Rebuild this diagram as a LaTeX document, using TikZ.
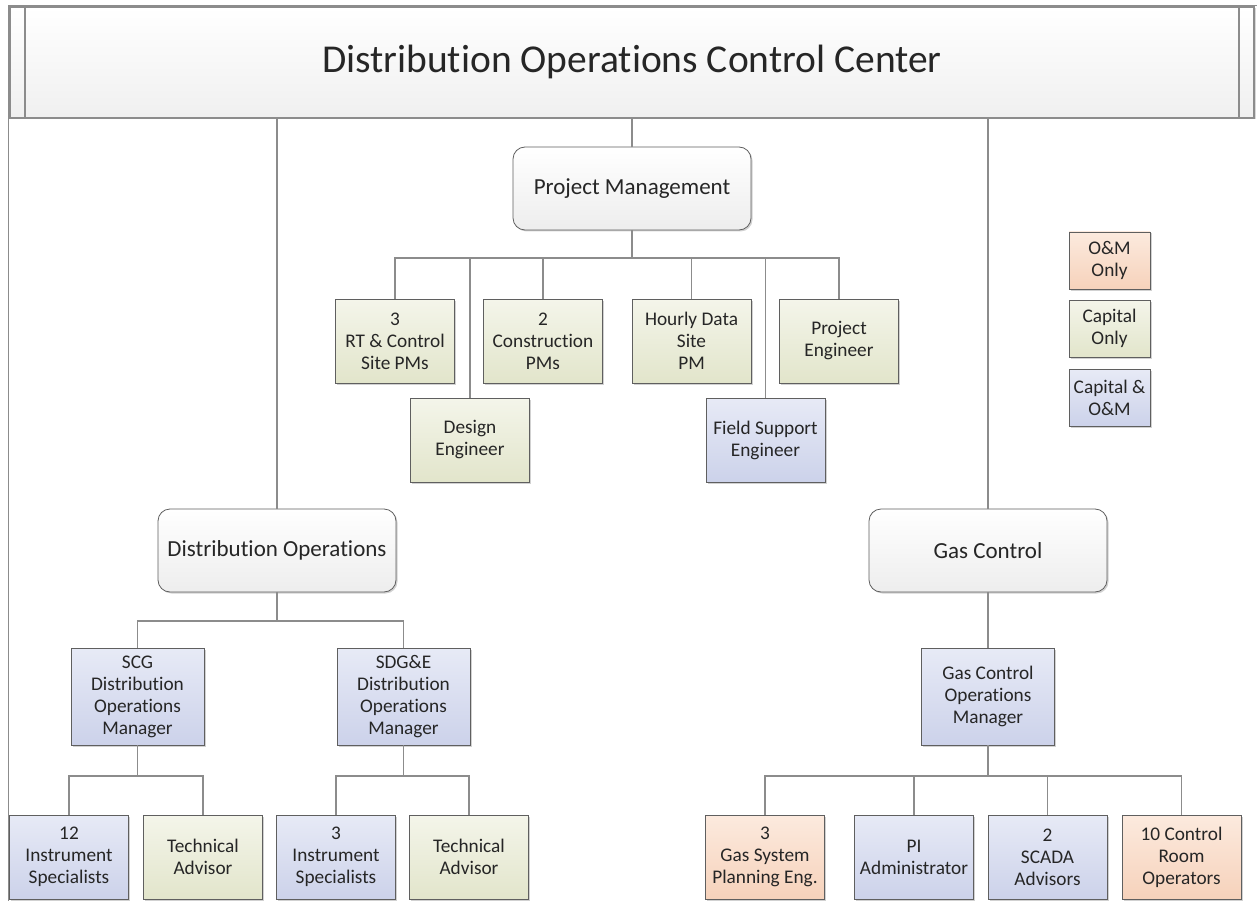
\documentclass[tikz,border=0pt]{standalone}
\usepackage{fontspec}
\setmainfont[Ligatures={NoCommon,NoContextual}]{Carlito}
\usetikzlibrary{shadows}
\definecolor{lineg}{HTML}{8C8C8C}
\definecolor{boxb}{HTML}{5F5F5F}
\definecolor{gtop}{HTML}{F4F5EA}
\definecolor{gbot}{HTML}{E2E5CB}
\definecolor{btop}{HTML}{E7EAF6}
\definecolor{bbot}{HTML}{CCD2EA}
\definecolor{otop}{HTML}{FCEADE}
\definecolor{obot}{HTML}{F6D2BB}
\definecolor{txt}{HTML}{262626}
\begin{document}
\begin{tikzpicture}[x=1pt,y=-1pt,
  conn/.style={draw=lineg, line width=1.3pt},
  box/.style={draw=boxb, line width=0.8pt, inner sep=1pt, outer sep=0pt, align=center,
    font=\fontsize{19.3}{22}\selectfont, text=txt, minimum width=119pt, minimum height=84pt,
    drop shadow={shadow xshift=1.5pt, shadow yshift=-1.5pt, fill=black, opacity=0.18}},
  gbox/.style={box, top color=gtop, bottom color=gbot},
  bbox/.style={box, top color=btop, bottom color=bbot},
  obox/.style={box, top color=otop, bottom color=obot},
  legbox/.style={minimum width=81pt, minimum height=57pt},
  mgrbox/.style={minimum width=133pt, minimum height=97pt},
  rbox/.style={draw=boxb, line width=0.8pt, rounded corners=12pt, top color=white, bottom color=black!7,
    minimum width=238pt, minimum height=83pt, outer sep=0pt, text=txt,
    font=\fontsize{23}{27}\selectfont,
    drop shadow={shadow xshift=1.5pt, shadow yshift=-1.5pt, fill=black, opacity=0.18}},
]
\useasboundingbox (0,0) rectangle (1257,901);
\fill[white] (0,0) rectangle (1257,901);
\draw[lineg, line width=0.9pt] (8,901) -- (8,5) -- (1257,5);

% title
\node[draw=lineg, line width=1.2pt, top color=white, bottom color=black!6, minimum width=1244pt,
  minimum height=111pt, outer sep=0pt,
  drop shadow={shadow xshift=1.5pt, shadow yshift=-1.5pt, fill=black, opacity=0.15}] (title) at (632,62.5) {};
\draw[lineg, line width=1.2pt] ([xshift=15pt]title.north west) -- ([xshift=15pt]title.south west);
\draw[lineg, line width=1.2pt] ([xshift=-15pt]title.north east) -- ([xshift=-15pt]title.south east);
\node[text=txt, font=\fontsize{39.5}{46}\selectfont] (ttext) at (632,62) {Distribution Operations Control Center};

% second level
\node[rbox] (pm) at (632,188.5) {Project Management};
\node[rbox] (do) at (277,550.5) {Distribution Operations};
\node[rbox] (gc) at (988,550.5) {Gas Control};

% project management children
\node[gbox] (rt) at (395,341) {3\\RT \& Control\\Site PMs};
\node[gbox] (con) at (543,341) {2\\Construction\\PMs};
\node[gbox] (hd) at (691.5,341) {Hourly Data\\Site\\PM};
\node[gbox] (pe) at (839,341) {Project\\Engineer};
\node[gbox] (de) at (470,440) {Design\\Engineer};
\node[bbox] (fs) at (765.5,440) {Field Support\\Engineer};

% legend
\node[obox, legbox] (l1) at (1109.5,260.5) {O\&M\\Only};
\node[gbox, legbox] (l2) at (1109.5,328.5) {Capital\\Only};
\node[bbox, legbox] (l3) at (1109.5,398) {Capital \&\\O\&M};

% managers
\node[bbox, mgrbox] (scg) at (137.5,696.5) {SCG\\Distribution\\Operations\\Manager};
\node[bbox, mgrbox] (sdg) at (403.5,696.5) {SDG\&E\\Distribution\\Operations\\Manager};
\node[bbox, mgrbox] (gcm) at (988,696.5) {Gas Control\\Operations\\Manager};

% bottom row
\node[bbox] (is12) at (69,857) {12\\Instrument\\Specialists};
\node[gbox] (ta1) at (203,857) {Technical\\Advisor};
\node[bbox] (is3) at (336,857) {3\\Instrument\\Specialists};
\node[gbox] (ta2) at (469,857) {Technical\\Advisor};
\node[obox] (gs) at (765,857) {3\\Gas System\\Planning Eng.};
\node[bbox] (pi) at (914,857) {PI\\Administrator};
\node[bbox] (sc) at (1047.5,857) {2\\SCADA\\Advisors};
\node[obox] (cr) at (1181.5,857) {10 Control\\Room\\Operators};

% connectors
\coordinate (pmb) at (632,258);
\coordinate (dob) at (277,621);
\coordinate (scgb) at (137.5,776);
\coordinate (sdgb) at (403.5,776);
\coordinate (gcmb) at (988,776);

\path[conn] (title.south -| pm.north) -- (pm.north);
\path[conn] (title.south -| do.north) -- (do.north);
\path[conn] (title.south -| gc.north) -- (gc.north);

\path[conn] (pm.south) -- (pmb);
\foreach \n in {rt,con,hd,pe,de,fs} {\path[conn] (pmb) -| (\n.north);}

\path[conn] (do.south) -- (dob);
\foreach \n in {scg,sdg} {\path[conn] (dob) -| (\n.north);}
\path[conn] (gc.south) -- (gcm.north);

\path[conn] (scg.south) -- (scgb);
\foreach \n in {is12,ta1} {\path[conn] (scgb) -| (\n.north);}
\path[conn] (sdg.south) -- (sdgb);
\foreach \n in {is3,ta2} {\path[conn] (sdgb) -| (\n.north);}
\path[conn] (gcm.south) -- (gcmb);
\foreach \n in {gs,pi,sc,cr} {\path[conn] (gcmb) -| (\n.north);}
\end{tikzpicture}
\end{document}
